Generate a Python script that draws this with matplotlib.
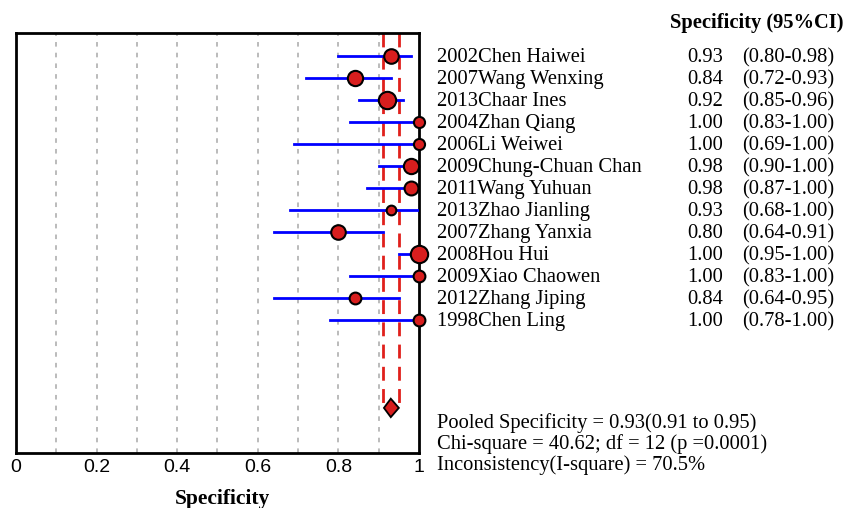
import numpy as np
import matplotlib.pyplot as plt
from matplotlib.patches import Polygon

studies = ['2002Chen Haiwei', '2007Wang Wenxing', '2013Chaar Ines', '2004Zhan Qiang',
           '2006Li Weiwei', '2009Chung-Chuan Chan', '2011Wang Yuhuan', '2013Zhao Jianling',
           '2007Zhang Yanxia', '2008Hou Hui', '2009Xiao Chaowen', '2012Zhang Jiping',
           '1998Chen Ling']
spec = [0.93, 0.84, 0.92, 1.00, 1.00, 0.98, 0.98, 0.93, 0.80, 1.00, 1.00, 0.84, 1.00]
ci_lo = [0.80, 0.72, 0.85, 0.83, 0.69, 0.90, 0.87, 0.68, 0.64, 0.95, 0.83, 0.64, 0.78]
ci_hi = [0.98, 0.93, 0.96, 1.00, 1.00, 1.00, 1.00, 1.00, 0.91, 1.00, 1.00, 0.95, 1.00]
# relative study weights (drive marker size)
weights = [10.5, 11, 12.5, 8, 8, 11, 10, 7, 10.5, 12.5, 8.5, 8.5, 8.5]

pooled, pooled_lo, pooled_hi = 0.93, 0.91, 0.95
stats_lines = ['Pooled Specificity = 0.93(0.91 to 0.95)',
               'Chi-square = 40.62; df = 12 (p =0.0001)',
               'Inconsistency(I-square) = 70.5%']
xticks = [0, 0.2, 0.4, 0.6, 0.8, 1]
xticklabels = ['0', '0.2', '0.4', '0.6', '0.8', '1']

serif = 'Liberation Serif'
fs = 14.8
dy = 0.07  # small nudge so text sits on the row centre
fig = plt.figure(figsize=(8.45, 5.08), dpi=100)
ax = fig.add_axes([16/845, 55/508, 403/845, 420/508])

rows = np.arange(1, len(studies) + 1)
pooled_row = len(studies) + 4

# grid
for g in np.arange(0.1, 0.95, 0.1):
    ax.axvline(g, color='#a8a8a8', lw=1.1, ls=(0, (3, 4)), zorder=1)

# pooled CI dashed lines
for v in (pooled_lo, pooled_hi):
    ax.plot([v, v], [-0.05, pooled_row - 0.2], color='#e0201c', lw=2, ls=(0, (5, 3)), zorder=2)

for r, s, lo, hi, w in zip(rows, spec, ci_lo, ci_hi, weights):
    ax.plot([lo, hi], [r, r], color='#0000ff', lw=2, zorder=3)
    ax.plot(s, r, 'o', ms=w, mfc='#d81e1e', mec='black', mew=1.5, zorder=4, clip_on=False)

dia = Polygon([[pooled_lo + 0.003, pooled_row], [pooled, pooled_row - 0.42],
               [pooled_hi, pooled_row], [pooled, pooled_row + 0.42]],
              closed=True, fc='#d81e1e', ec='black', lw=1.3, zorder=5)
ax.add_patch(dia)

ax.set_xlim(0, 1)
ax.set_ylim(19.05, -0.05)
ax.set_xticks(xticks)
ax.set_xticklabels(xticklabels, family='Liberation Sans', fontsize=14)
ax.tick_params(axis='x', length=0, pad=4)
ax.set_yticks([])
for sp in ax.spines.values():
    sp.set_linewidth(2)

# right side text
for r, name, s, lo, hi in zip(rows, studies, spec, ci_lo, ci_hi):
    ax.text(1.045, r + dy, name, family=serif, fontsize=fs, va='center', ha='left', clip_on=False)
    ax.text(1.754, r + dy, '%.2f' % s, family=serif, fontsize=fs, va='center', ha='right',
            clip_on=False)
    ax.text(1.801, r + dy, '(%.2f-%.2f)' % (lo, hi), family=serif, fontsize=fs, va='center',
            ha='left', clip_on=False)

ax.text(1.623, -0.5, 'Specificity (95%CI)', family=serif, fontsize=fs, fontweight='bold',
        va='center', ha='left', clip_on=False)

for i, line in enumerate(stats_lines):
    ax.text(1.045, 17.63 + dy + i * 0.96, line, family=serif, fontsize=fs, va='center',
            ha='left', clip_on=False)

fig.text(222/845, 1 - 489/508, 'Specificity', family=serif, fontsize=15.5, fontweight='bold',
         ha='center', va='top')

fig.savefig('out.png', dpi=100)
